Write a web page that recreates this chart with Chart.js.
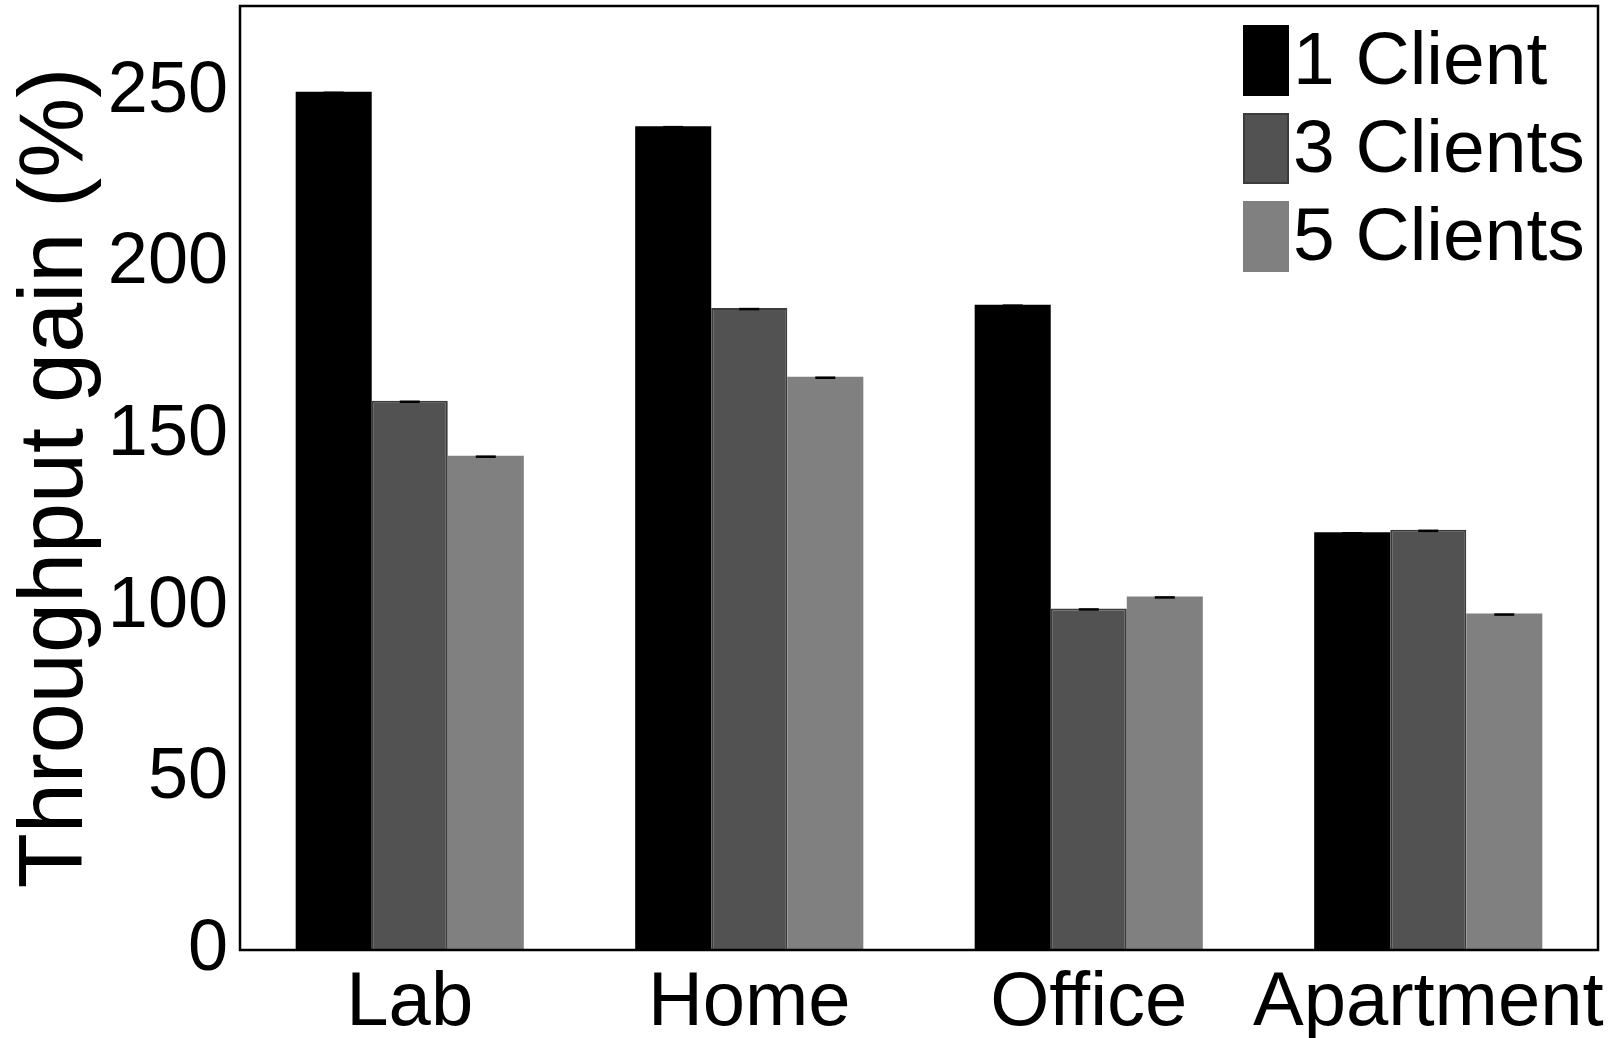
<!DOCTYPE html>
<html>
<head>
<meta charset="utf-8">
<title>Throughput gain</title>
<script src="https://cdn.jsdelivr.net/npm/chart.js@4"></script>
<style>
  html, body { margin: 0; padding: 0; background: #fff; }
  canvas { display: block; }
</style>
</head>
<body>
<canvas id="chart" width="1612" height="1038"></canvas>
<script>
// throughput gain per site, grouped by number of clients
const categories = ['Lab', 'Home', 'Office', 'Apartment'];
const oneClient = [250, 240, 188, 121.7];
const threeClients = [160, 187, 99.5, 122.4];
const fiveClients = [144, 167, 103, 98];
const yTicks = [0, 50, 100, 150, 200, 250];

const FONT = '"Liberation Sans", Arial, Helvetica, sans-serif';

// frame round the plot area
const framePlugin = {
  id: 'frame',
  afterDraw(chart) {
    const { ctx, chartArea: a } = chart;
    ctx.save();
    ctx.strokeStyle = '#000';
    ctx.lineWidth = 2.5;
    ctx.strokeRect(a.left, a.top, a.right - a.left, a.bottom - a.top);
    ctx.restore();
  }
};

// small black caps at the top of each bar
const capsPlugin = {
  id: 'caps',
  afterDatasetsDraw(chart) {
    const ctx = chart.ctx;
    ctx.save();
    ctx.strokeStyle = '#000';
    ctx.lineWidth = 2.5;
    chart.data.datasets.forEach((ds, i) => {
      chart.getDatasetMeta(i).data.forEach(bar => {
        ctx.beginPath();
        ctx.moveTo(bar.x - 10, bar.y + 1);
        ctx.lineTo(bar.x + 10, bar.y + 1);
        ctx.stroke();
      });
    });
    ctx.restore();
  }
};

// legend drawn inside the top right corner of the plot
const legendPlugin = {
  id: 'innerLegend',
  afterDraw(chart) {
    const ctx = chart.ctx;
    const x0 = 1243, y0 = 25, boxW = 46, boxH = 71, step = 88;
    ctx.save();
    ctx.font = '75px ' + FONT;
    ctx.textBaseline = 'middle';
    ctx.textAlign = 'left';
    chart.data.datasets.forEach((ds, i) => {
      const y = y0 + i * step;
      ctx.fillStyle = ds.backgroundColor;
      ctx.fillRect(x0, y, boxW, boxH);
      if (ds.borderWidth) {
        ctx.strokeStyle = ds.borderColor;
        ctx.lineWidth = ds.borderWidth;
        ctx.strokeRect(x0 + 1, y + 1, boxW - 2, boxH - 2);
      }
      ctx.fillStyle = '#000';
      ctx.fillText(ds.label, 1293, y + boxH / 2 + 3);
    });
    ctx.restore();
  }
};

new Chart(document.getElementById('chart'), {
  type: 'bar',
  data: {
    labels: categories,
    datasets: [
      { label: '1 Client', data: oneClient, backgroundColor: '#000000', borderColor: '#000000', borderWidth: 0 },
      { label: '3 Clients', data: threeClients, backgroundColor: '#525252', borderColor: '#3c3c3c', borderWidth: 2 },
      { label: '5 Clients', data: fiveClients, backgroundColor: '#808080', borderColor: '#808080', borderWidth: 0 }
    ]
  },
  options: {
    responsive: false,
    animation: false,
    layout: { padding: { top: 6, right: 14, left: 0, bottom: 0 } },
    datasets: {
      bar: { categoryPercentage: 0.672, barPercentage: 1 }
    },
    plugins: {
      legend: { display: false },
      tooltip: { enabled: false }
    },
    scales: {
      x: {
        grid: { display: false, drawTicks: false },
        border: { display: false },
        ticks: {
          color: '#000',
          padding: 8,
          autoSkip: false,
          maxRotation: 0,
          minRotation: 0,
          font: { family: FONT, size: 76 }
        },
        afterFit(scale) {
          scale.height = 88;
          scale.paddingLeft = 0;
          scale.paddingRight = 0;
        }
      },
      y: {
        min: 0,
        max: 275,
        grid: { display: false, drawTicks: false },
        border: { display: false },
        afterBuildTicks(scale) {
          scale.ticks = yTicks.map(v => ({ value: v }));
        },
        ticks: {
          color: '#000',
          padding: 12,
          font: { family: FONT, size: 72 }
        },
        title: {
          display: true,
          text: 'Throughput gain (%)',
          color: '#000',
          padding: { top: 3, bottom: 0 },
          font: { family: FONT, size: 90, lineHeight: 1.2 }
        },
        afterFit(scale) {
          scale.width = 240;
          scale.paddingTop = 0;
          scale.paddingBottom = 0;
        }
      }
    }
  },
  plugins: [framePlugin, capsPlugin, legendPlugin]
});
</script>
</body>
</html>
